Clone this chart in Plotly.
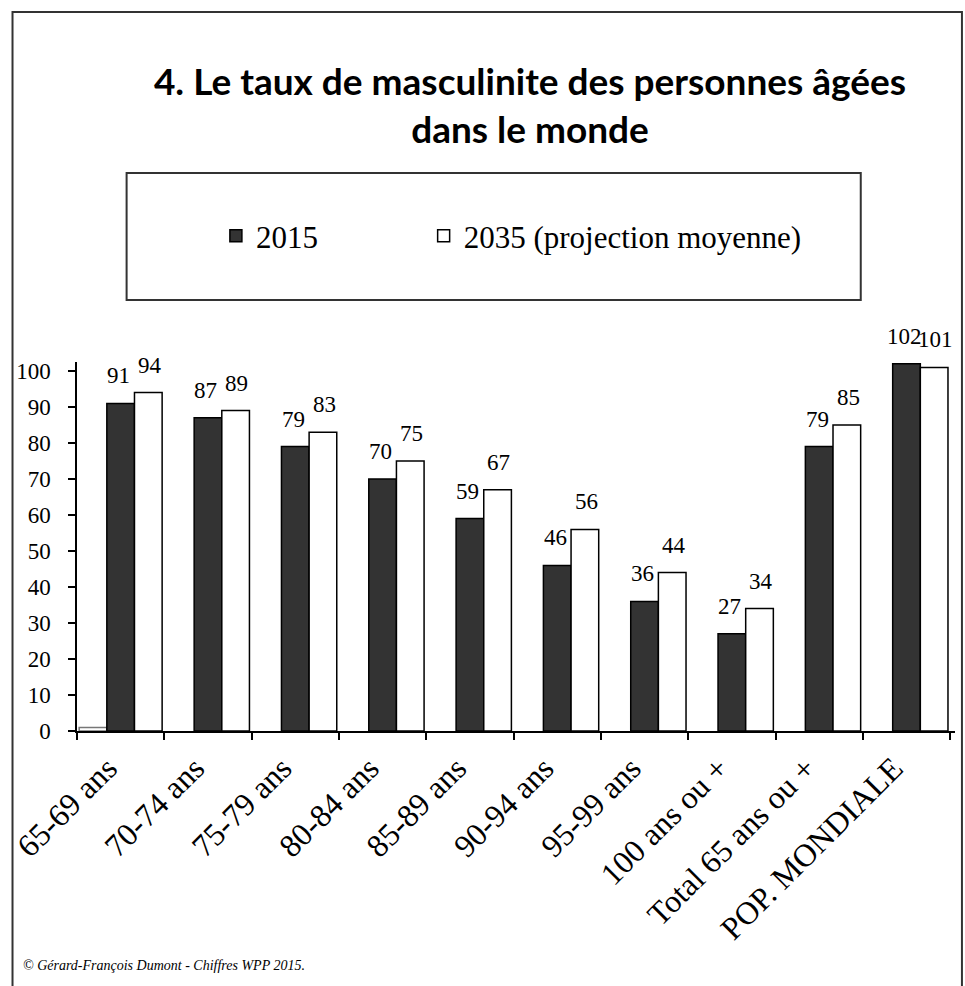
import plotly.graph_objects as go

categories = ["65-69 ans", "70-74 ans", "75-79 ans", "80-84 ans", "85-89 ans",
              "90-94 ans", "95-99 ans", "100 ans ou +", "Total 65 ans ou +", "POP. MONDIALE"]
serie_vide = [1, None, None, None, None, None, None, None, None, None]
v2015 = [91, 87, 79, 70, 59, 46, 36, 27, 79, 102]
v2035 = [94, 89, 83, 75, 67, 56, 44, 34, 85, 101]
y_ticks = [0, 10, 20, 30, 40, 50, 60, 70, 80, 90, 100]

W, H = 965, 986
L, R, T, B = 70, 10, 362, 255
pw = W - L - R
ph = H - T - B

def px(x):
    return (x - L) / pw

def py(y):
    return (H - B - y) / ph

SERIF = "Liberation Serif"
NBSP = "\u00a0"

fig = go.Figure()
fig.add_trace(go.Bar(x=categories, y=serie_vide, name="", showlegend=False,
                     marker=dict(color="white", line=dict(color="#777777", width=1.5)),
                     hoverinfo="skip"))
fig.add_trace(go.Bar(x=categories, y=v2015, name="2015" + NBSP * 13,
                     marker=dict(color="#333333", line=dict(color="black", width=1.5))))
fig.add_trace(go.Bar(x=categories, y=v2035, name="2035 (projection moyenne)",
                     marker=dict(color="white", line=dict(color="black", width=1.5))))

for c, a, b in zip(categories, v2015, v2035):
    fig.add_annotation(x=c, y=a, text=str(a), showarrow=False, xshift=-2, yshift=13,
                       yanchor="bottom", font=dict(family=SERIF, size=23, color="black"))
    fig.add_annotation(x=c, y=b, text=str(b), showarrow=False, xshift=29, yshift=13,
                       yanchor="bottom", font=dict(family=SERIF, size=23, color="black"))

# footer
fig.add_annotation(xref="paper", yref="paper", x=px(14), y=py(965), xanchor="left", yanchor="middle",
                   text="<i>© Gérard-François Dumont - Chiffres WPP 2015.</i>", showarrow=False,
                   font=dict(family=SERIF, size=14, color="black"))

# outer frame
fig.add_shape(type="rect", xref="paper", yref="paper", x0=px(5), x1=px(962), y0=py(1000), y1=py(12),
              line=dict(color="#333333", width=2), fillcolor="rgba(0,0,0,0)", layer="above")
# legend box
fig.add_shape(type="rect", xref="paper", yref="paper", x0=px(120), x1=px(860), y0=py(300), y1=py(173),
              line=dict(color="#333333", width=2), fillcolor="rgba(0,0,0,0)", layer="above")

fig.update_layout(
    width=W, height=H,
    margin=dict(l=L, r=R, t=T, b=B),
    paper_bgcolor="white", plot_bgcolor="white",
    barmode="group", bargap=0.05, bargroupgap=0,
    title=dict(text="<b>4. Le taux de masculinite des personnes âgées<br>dans le monde</b>",
               x=530 / W, xanchor="center", xref="container",
               y=1 - 95 / H, yanchor="top", yref="container",
               font=dict(family="Lato", size=37, color="black")),
    legend=dict(orientation="h", x=px(210), xanchor="left", y=py(236), yanchor="middle",
                font=dict(family=SERIF, size=31, color="black"),
                bgcolor="rgba(0,0,0,0)", itemwidth=30, traceorder="normal"),
    font=dict(family=SERIF, color="black"),
)
fig.update_xaxes(type="category", tickson="boundaries", ticks="outside", ticklen=7,
                 tickcolor="black", tickwidth=1.5, showline=True, linecolor="black", linewidth=1.5,
                 tickangle=-45, tickfont=dict(family=SERIF, size=32, color="black"), showgrid=False,
                 ticklabelshift=-13, ticklabelstandoff=4)
fig.update_yaxes(range=[0, 102.5], tickvals=y_ticks, ticks="outside", ticklen=7,
                 tickcolor="black", tickwidth=1.5, showline=True, linecolor="black", linewidth=1.5,
                 tickfont=dict(family=SERIF, size=23, color="black"), showgrid=False, zeroline=False,
                 ticklabelstandoff=13)

fig.write_html("out.html", config={"displayModeBar": False},
               post_script="document.body.style.margin='0px';")
